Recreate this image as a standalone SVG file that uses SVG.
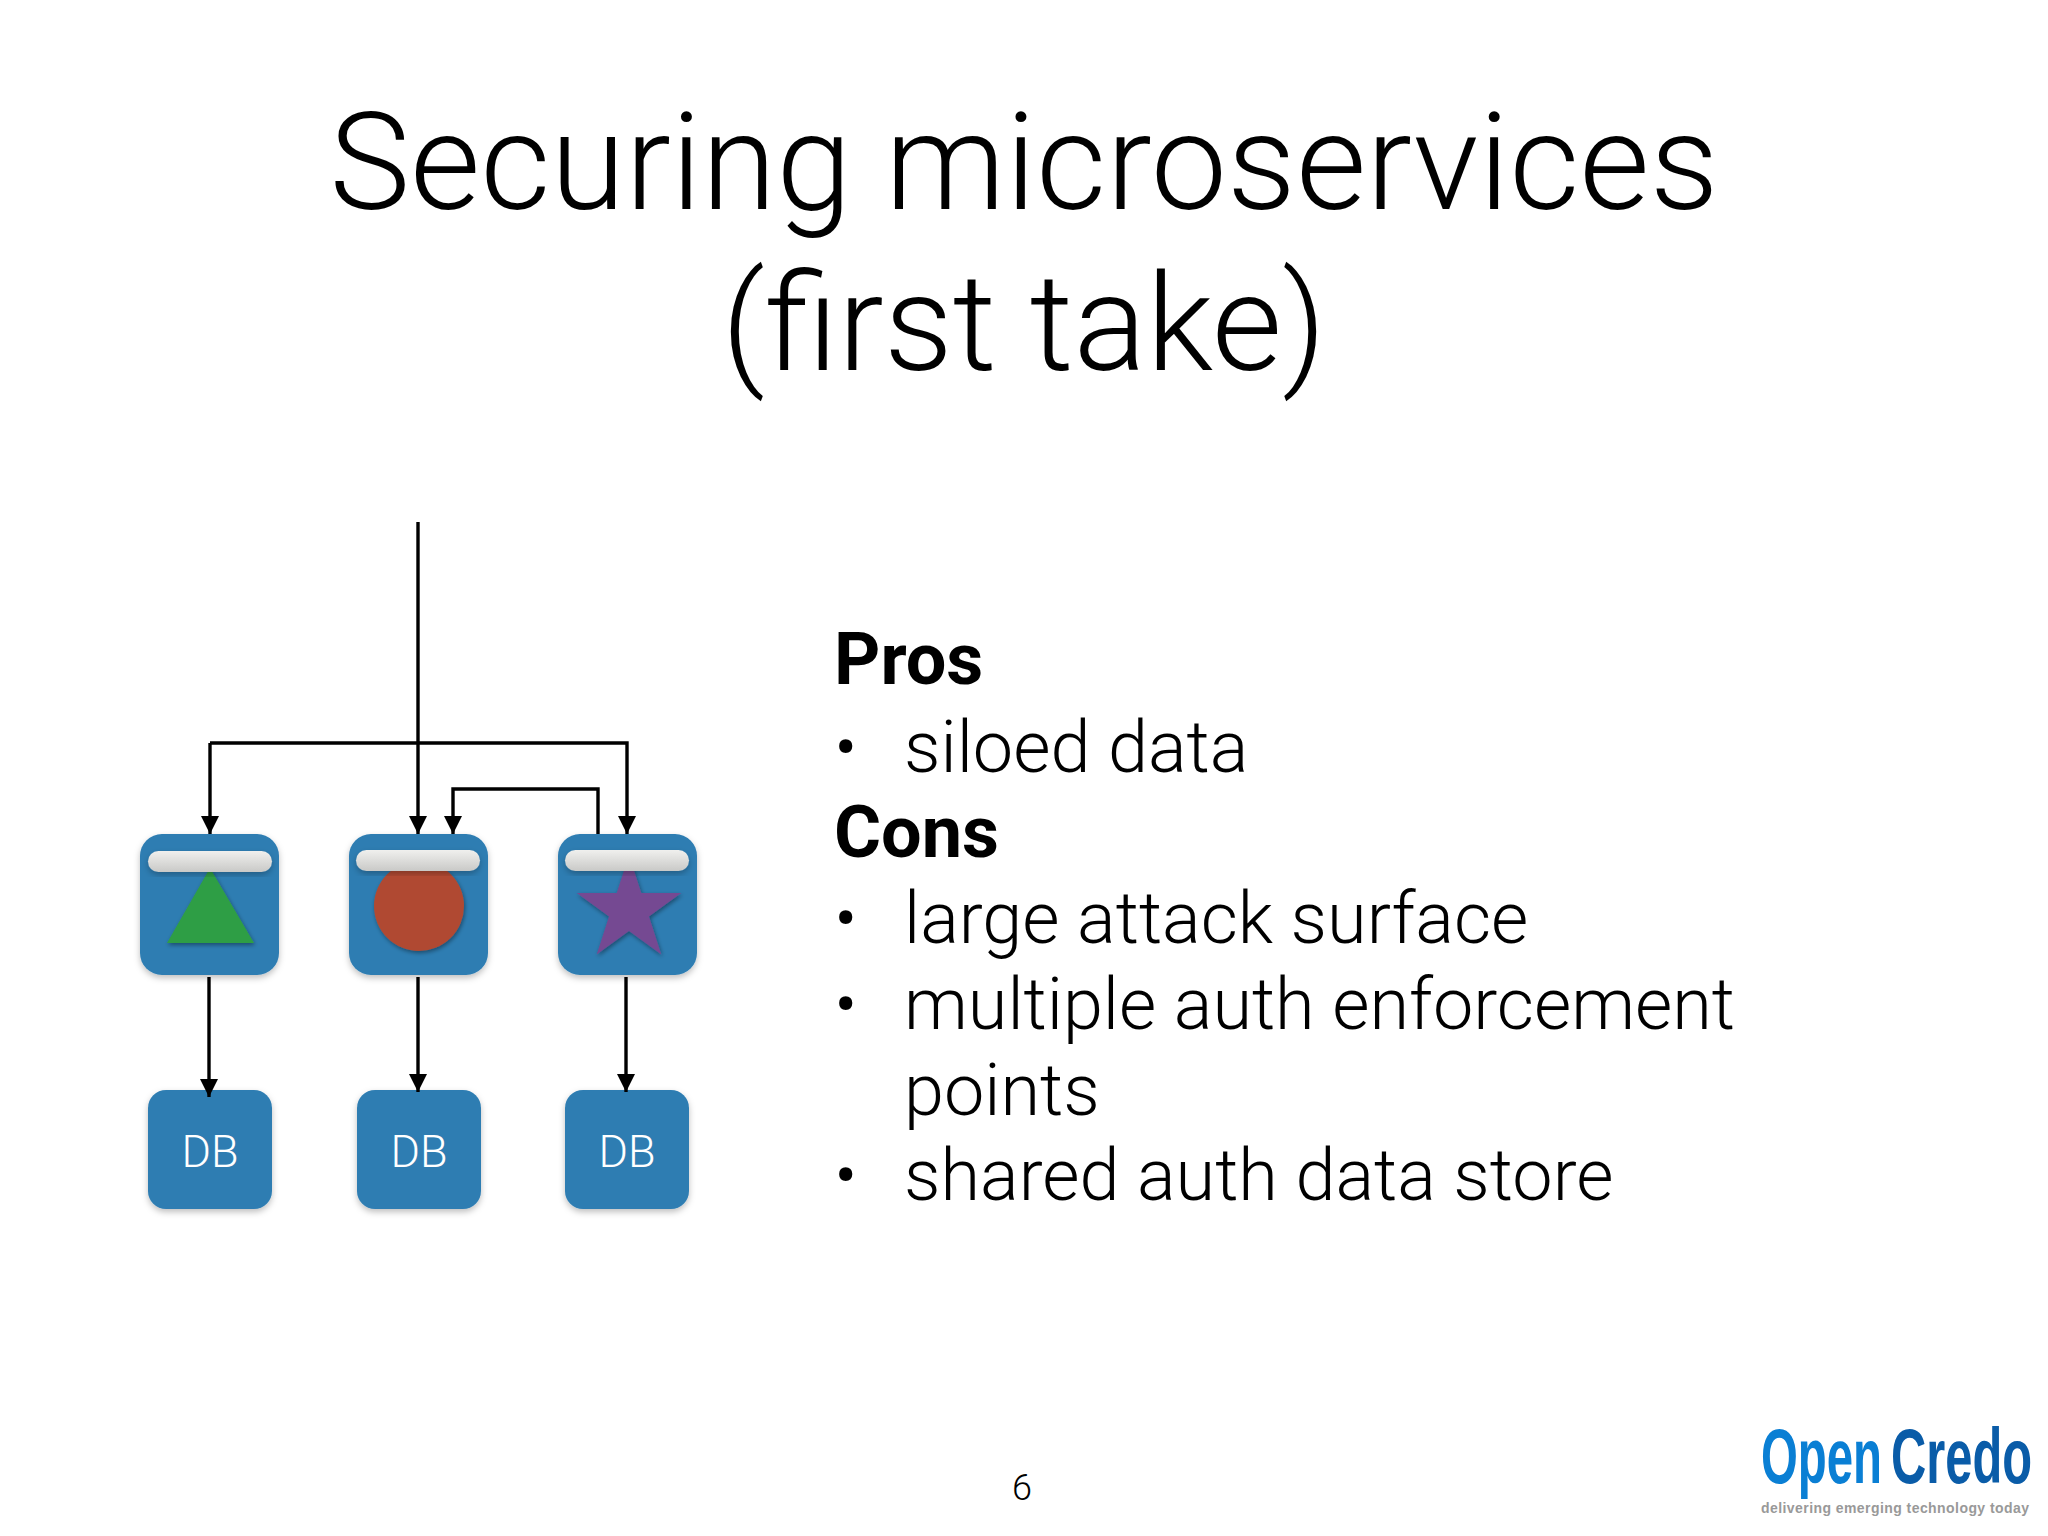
<svg xmlns="http://www.w3.org/2000/svg" width="2048" height="1536" viewBox="0 0 2048 1536">
<style>
text{font-family:"Roboto","Liberation Sans",sans-serif;font-weight:300;fill:#000}
.title{font-size:136px;text-anchor:middle}
.body{font-size:72px}
.bold{font-size:72px;font-weight:700}
.db{font-size:45px;fill:#fff;text-anchor:middle}
.box{fill:#2e7db2;filter:url(#sh)}
.bar{fill:url(#barg);filter:url(#sh)}
.shape{filter:url(#sh2)}
.line{fill:none;stroke:#000;stroke-width:3.4}
.arrow{marker-end:url(#ah)}
</style>
<defs>
<linearGradient id="barg" x1="0" y1="0" x2="0" y2="1"><stop offset="0" stop-color="#f0f0ee"/><stop offset="1" stop-color="#c9c9c7"/></linearGradient>
<filter id="sh" x="-20%" y="-20%" width="140%" height="140%"><feDropShadow dx="0" dy="3" stdDeviation="3" flood-color="#000" flood-opacity=".25"/></filter>
<filter id="sh2" x="-20%" y="-20%" width="140%" height="140%"><feDropShadow dx="1" dy="2" stdDeviation="2" flood-color="#000" flood-opacity=".4"/></filter>
<marker id="ah" markerUnits="userSpaceOnUse" markerWidth="18" markerHeight="19" refX="18" refY="9" orient="auto"><path d="M0 0L18 9L0 18Z" fill="#000"/></marker>
</defs>
<rect width="2048" height="1536" fill="#fff"/>
<text class="title" x="1024" y="209">Securing microservices</text>
<text class="title" x="1024" y="370">(first take)</text>
<g id="node-svc-a"><rect class="box" x="140" y="834" width="139" height="141" rx="22"/><path class="shape" d="M210 868L254 943H167Z" fill="#2f9e44"/><rect class="bar" x="148" y="851" width="124" height="21" rx="10.5"/></g>
<g id="node-svc-b"><rect class="box" x="349" y="834" width="139" height="141" rx="22"/><circle class="shape" cx="419" cy="906" r="45" fill="#b04a32"/><rect class="bar" x="356" y="850" width="124" height="21" rx="10.5"/></g>
<g id="node-svc-c"><rect class="box" x="558" y="834" width="139" height="141" rx="22"/><path class="shape" d="M629 855L641.3 893L681.3 893L649 916.5L661.3 954.5L629 931L596.7 954.5L609 916.5L576.7 893L616.7 893Z" fill="#744a92"/><rect class="bar" x="565" y="850" width="124" height="21" rx="10.5"/></g>
<g id="node-db-a"><rect class="box" x="148" y="1090" width="124" height="119" rx="18"/><text class="db" x="210" y="1167">DB</text></g>
<g id="node-db-b"><rect class="box" x="357" y="1090" width="124" height="119" rx="18"/><text class="db" x="419" y="1167">DB</text></g>
<g id="node-db-c"><rect class="box" x="565" y="1090" width="124" height="119" rx="18"/><text class="db" x="627" y="1167">DB</text></g>
<g id="connectors">
<path class="line arrow" d="M418 522V834"/>
<path class="line arrow" d="M210 743H627V834" />
<path class="line arrow" d="M210 743V834"/>
<path class="line arrow" d="M598 834V789H453V834"/>
<path class="line arrow" d="M209 977V1097"/>
<path class="line arrow" d="M418 977V1092"/>
<path class="line arrow" d="M626 977V1092"/>
</g>
<g id="text-list">
<text class="bold" x="834" y="684">Pros</text>
<text class="body" x="834" y="772">•</text><text class="body" x="904" y="772">siloed data</text>
<text class="bold" x="834" y="857">Cons</text>
<text class="body" x="834" y="943">•</text><text class="body" x="904" y="943">large attack surface</text>
<text class="body" x="834" y="1029">•</text><text class="body" x="904" y="1029">multiple auth enforcement</text>
<text class="body" x="904" y="1115">points</text>
<text class="body" x="834" y="1200">•</text><text class="body" x="904" y="1200">shared auth data store</text>
</g>
<text x="1022" y="1500" font-size="36" text-anchor="middle">6</text>
<g id="logo">
<text x="1761" y="1483" font-size="78" textLength="121" lengthAdjust="spacingAndGlyphs" style="font-family:'Liberation Sans',sans-serif;font-weight:700;fill:#0a7fd4">Open</text>
<text x="1891" y="1483" font-size="78" textLength="141" lengthAdjust="spacingAndGlyphs" style="font-family:'Liberation Sans',sans-serif;font-weight:700;fill:#0a5ca8">Credo</text>
<text x="1761" y="1513" font-size="14" textLength="268" style="font-family:'Liberation Sans',sans-serif;font-weight:700;fill:#999">delivering emerging technology today</text>
</g>
</svg>
